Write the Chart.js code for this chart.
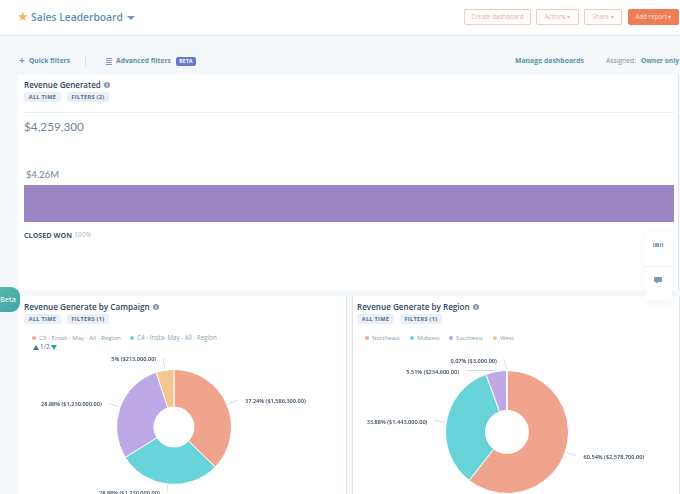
<!DOCTYPE html>
<html><head><meta charset="utf-8">
<script src="https://cdn.jsdelivr.net/npm/chart.js@4"></script>
<style>
html,body{margin:0;padding:0;width:680px;height:494px;overflow:hidden;background:#f5f8fa}
#page{position:absolute;left:0;top:0;width:680px;height:494px;overflow:hidden;font-family:"Open Sans",sans-serif;filter:blur(.4px);background:#f5f8fa}
#page div{position:absolute;white-space:nowrap}
.card{background:#fff}
.title{font-weight:600;font-size:9px;color:#33475b;line-height:12px}
.tag{background:#eaf0f6;color:#516f90;font-weight:700;font-size:5.6px;letter-spacing:.3px;line-height:10px;height:10px;text-align:center;border-radius:2px}
.info{width:6px;height:6px;border-radius:50%;background:#7c98b6;color:#fff;font-size:5px;line-height:6px;text-align:center;font-weight:700}
.btn{box-sizing:border-box;height:16px;border:1px solid #f8c9b8;border-radius:2px;color:#f3a994;font-size:6.2px;line-height:14px;text-align:center;background:#fff}
.link{font-weight:700;font-size:7.5px;color:#5b93ad;line-height:10px}
.leg{font-size:6.5px;color:#8a9fb2;line-height:10px}
.dot{width:4px;height:4px;border-radius:50%}
canvas{display:block}
</style></head><body>
<div id="page">
  <div style="left:0;top:0;width:680px;height:35px;background:#fff;border-bottom:1px solid #dfe3eb"></div>
  <div style="left:17px;top:9px;font-size:13px;line-height:16px;color:#f5b65f;font-family:'DejaVu Sans'">★</div>
  <div class="fit" data-w="92" style="left:31px;top:10px;font-weight:600;font-size:11px;line-height:14px;color:#5b93ad">Sales Leaderboard</div>
  <div style="left:127px;top:16px;width:0;height:0;border-left:4px solid transparent;border-right:4px solid transparent;border-top:4px solid #7c98b6"></div>

  <div class="btn" style="left:464px;top:9px;width:67px">Create dashboard</div>
  <div class="btn" style="left:536px;top:9px;width:43px">Actions ▾</div>
  <div class="btn" style="left:584px;top:9px;width:38px">Share ▾</div>
  <div class="btn" style="left:628px;top:9px;width:51px;background:#ee7c55;border-color:#ee7c55;color:#fde3d9">Add report ▾</div>

  <div class="link" style="left:19px;top:55px;font-size:10px;color:#7c98b6">+</div>
  <div class="link fit" data-w="41" style="left:29px;top:56px">Quick filters</div>
  <div style="left:85px;top:56px;width:1px;height:11px;background:#dfe3eb"></div>
  <div style="left:106px;top:58px;width:6px;height:7px;background:repeating-linear-gradient(180deg,#7c98b6 0 1px,#fff 1px 2px)"></div>
  <div class="link fit" data-w="55" style="left:116px;top:56px">Advanced filters</div>
  <div style="left:176px;top:57px;width:20px;height:9px;background:#6a78d1;border-radius:2px;color:#fff;font-weight:700;font-size:5px;line-height:9px;text-align:center;letter-spacing:.3px">BETA</div>
  <div class="link fit" data-w="69" style="left:515px;top:56px">Manage dashboards</div>
  <div class="leg fit" data-w="30" style="left:606px;top:56px;font-size:7.5px;color:#8a8f96">Assigned:</div>
  <div class="link fit" data-w="38" style="left:641px;top:56px">Owner only</div>

  <div class="card" style="left:18px;top:75px;width:660px;height:216px;border-right:1px solid #dfe3eb"></div>
  <div class="title fit" data-w="77" style="left:24px;top:79px">Revenue Generated</div>
  <div class="info" style="left:104px;top:82px">i</div>
  <div class="tag" style="left:24px;top:92px;width:37px">ALL TIME</div>
  <div class="tag" style="left:67px;top:92px;width:42px">FILTERS (2)</div>
  <div style="left:24px;top:112px;width:650px;height:1px;background:#eaf0f6"></div>
  <div id="total" class="fit" data-w="60" style="left:24px;top:119px;font-size:13px;line-height:16px;color:#6f8499;font-family:Lato"></div>
  <div id="barLabel" class="fit" data-w="33" style="left:26px;top:168px;font-size:11px;line-height:14px;color:#6f8499;font-family:Lato"></div>
  <div style="left:24px;top:185px;width:650px;height:37px"><canvas id="bar" width="650" height="37"></canvas></div>
  <div id="stage" class="fit" data-w="48" style="left:24px;top:230px;font-weight:700;font-size:7.2px;line-height:10px;color:#425b76"></div>
  <div id="stagePct" class="fit" data-w="17" style="left:74px;top:230px;font-size:7.2px;line-height:10px;color:#a9b9c9"></div>

  <div class="card" style="left:18px;top:296px;width:328px;height:198px;border-right:1px solid #dfe3eb"></div>
  <div class="card" style="left:352px;top:296px;width:326px;height:198px;border-right:1px solid #dfe3eb;border-left:1px solid #dfe3eb"></div>
  <div class="title fit" data-w="126" style="left:24px;top:301px">Revenue Generate by Campaign</div>
  <div class="info" style="left:153px;top:304px">i</div>
  <div class="tag" style="left:24px;top:314px;width:37px">ALL TIME</div>
  <div class="tag" style="left:67px;top:314px;width:42px">FILTERS (1)</div>
  <div class="title fit" data-w="113" style="left:357px;top:301px">Revenue Generate by Region</div>
  <div class="info" style="left:473px;top:304px">i</div>
  <div class="tag" style="left:357px;top:314px;width:37px">ALL TIME</div>
  <div class="tag" style="left:400px;top:314px;width:42px">FILTERS (1)</div>

  <div id="legendA"></div>
  <div id="legendB"></div>
  <div style="left:33px;top:345px;width:0;height:0;border-left:3px solid transparent;border-right:3px solid transparent;border-bottom:5px solid #516f90"></div>
  <div class="leg" style="left:40px;top:342px;color:#516f90">1/2</div>
  <div style="left:51px;top:345px;width:0;height:0;border-left:3px solid transparent;border-right:3px solid transparent;border-top:5px solid #2f9fb0"></div>

  <div style="left:13.5px;top:267px;width:320px;height:320px"><canvas id="pieA" width="320" height="320"></canvas></div>
  <div style="left:347px;top:272px;width:320px;height:320px"><canvas id="pieB" width="320" height="320"></canvas></div>

  <div style="left:0;top:287px;width:20px;height:25px;border-radius:0 9px 9px 0;background:linear-gradient(135deg,#56b6a8,#3fa5ae);color:#fff;font-size:7.5px;line-height:25px;overflow:hidden">Beta</div>
  <div style="left:645px;top:232px;width:27px;height:68px;background:#fff;border-radius:4px;box-shadow:0 2px 8px rgba(45,62,80,.06)"></div>
  <div style="left:645px;top:266px;width:27px;height:1px;background:#eaf0f6"></div>
  <div style="left:653px;top:243px;width:11px;height:4px;background:repeating-linear-gradient(90deg,#8ea6c0 0 1.4px,#dfe7f0 1.4px 2.2px)"></div>
  <div style="left:654px;top:277px;width:8px;height:5px;background:#7c98b6;border-radius:1px"></div>
  <div style="left:656px;top:282px;width:0;height:0;border-left:1.5px solid transparent;border-right:1.5px solid transparent;border-top:2px solid #7c98b6"></div>
</div>
<script>
const totalRevenue = 4259300;
const barLabelText = "$4.26M";
const stageName = "CLOSED WON";
const stageShare = "100%";

const campaignLegend = ["C3 - Email - May - All - Region", "C4 - Insta- May - All - Region"];
const campaignValues = [1586300, 1230000, 1230000, 213000];
const campaignPct = ["37.24%", "28.88%", "28.88%", "5%"];

const regionLabels = ["Northeast", "Midwest", "Southeast", "West"];
const regionValues = [2578700, 1443000, 234600, 3000];
const regionPct = ["60.54%", "33.88%", "5.51%", "0.07%"];

const sliceColors = ["#f1a48d", "#68d4da", "#bea9e8", "#f5c78f"];
const barColor = "#9a84c1";

const money = v => "$" + v.toLocaleString("en-US", {minimumFractionDigits: 2, maximumFractionDigits: 2});

document.getElementById("total").textContent = "$" + totalRevenue.toLocaleString("en-US");
document.getElementById("barLabel").textContent = barLabelText;
document.getElementById("stage").textContent = stageName;
document.getElementById("stagePct").textContent = stageShare;

function legend(id, labels, dotX, textX, widths) {
  const host = document.getElementById(id);
  labels.forEach((t, i) => {
    const d = document.createElement("div");
    d.className = "dot";
    d.style.cssText = `left:${dotX[i]}px;top:336px;background:${sliceColors[i]}`;
    host.appendChild(d);
    const s = document.createElement("div");
    s.className = "leg fit";
    s.dataset.w = widths[i];
    s.style.cssText = `left:${textX[i]}px;top:333px`;
    s.textContent = t;
    host.appendChild(s);
  });
}
legend("legendA", campaignLegend, [32, 130], [39, 137], [82, 80]);
legend("legendB", regionLabels, [365, 410, 449, 493], [372, 417, 456, 500], [28, 23, 27, 14]);

document.querySelectorAll(".fit").forEach(el => {
  const size = parseFloat(getComputedStyle(el).fontSize);
  el.style.fontSize = (size * el.dataset.w / el.getBoundingClientRect().width) + "px";
});

const leaderPlugin = {
  id: "leaders",
  afterDatasetsDraw(chart, args, opts) {
    const ctx = chart.ctx;
    const arcs = chart.getDatasetMeta(0).data;
    arcs.forEach((arc, i) => {
      const p = arc.getProps(["x", "y", "startAngle", "endAngle", "outerRadius"], true);
      const mid = (p.startAngle + p.endAngle) / 2;
      const c = Math.cos(mid), s = Math.sin(mid);
      const x0 = p.x + c * (p.outerRadius + 1), y0 = p.y + s * (p.outerRadius + 1);
      const n = (opts.nudge && opts.nudge[i]) || [0, 0];
      const x1 = p.x + c * (p.outerRadius + opts.reach) + n[0];
      const y1 = p.y + s * (p.outerRadius + opts.reach) + n[1];
      ctx.save();
      ctx.strokeStyle = "#d5dfe9";
      ctx.lineWidth = 1;
      ctx.beginPath(); ctx.moveTo(x0, y0); ctx.lineTo(x1, y1); ctx.stroke();
      const right = c >= 0;
      ctx.font = "600 5.6px 'Open Sans'";
      ctx.fillStyle = "#33475b";
      ctx.textAlign = right ? "left" : "right";
      ctx.textBaseline = "middle";
      ctx.fillText(opts.pct[i] + " (" + money(chart.data.datasets[0].data[i]) + ")", x1 + (right ? 7 : -7), y1 + 1.5);
      ctx.restore();
    });
  }
};

function pie(id, values, pct, radius, hole, reach, nudge) {
  const pad = 160 - radius;
  new Chart(document.getElementById(id), {
    type: "doughnut",
    data: {datasets: [{data: values, backgroundColor: sliceColors, borderColor: "#fff", borderWidth: 1}]},
    options: {
      responsive: false, animation: false, cutout: hole,
      layout: {padding: pad},
      plugins: {legend: {display: false}, tooltip: {enabled: false}, leaders: {pct, reach, nudge}}
    },
    plugins: [leaderPlugin]
  });
}
pie("pieA", campaignValues, campaignPct, 58, 20, 12, [null, [0, -4], null, null]);
pie("pieB", regionValues, regionPct, 62, 21.5, 12, [null, null, [-28, 11], [-3, 1]]);

new Chart(document.getElementById("bar"), {
  type: "bar",
  data: {labels: [stageName], datasets: [{data: [totalRevenue], backgroundColor: barColor, borderRadius: 2, borderSkipped: false, barPercentage: 1, categoryPercentage: 1}]},
  options: {
    indexAxis: "y", responsive: false, animation: false,
    layout: {padding: 0},
    scales: {x: {display: false, min: 0, max: totalRevenue}, y: {display: false}},
    plugins: {legend: {display: false}, tooltip: {enabled: false}}
  }
});
</script>
</body></html>
